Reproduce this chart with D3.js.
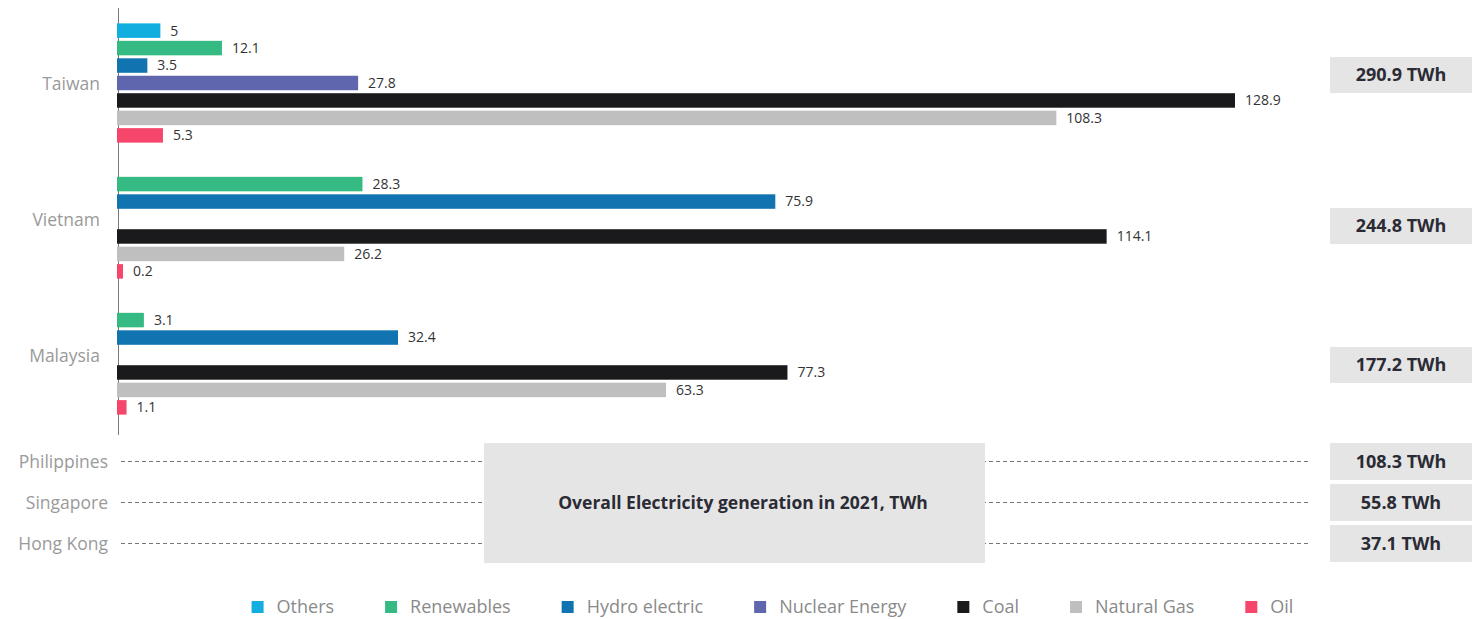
<!DOCTYPE html>
<html>
<head>
<meta charset="utf-8">
<script src="https://cdn.jsdelivr.net/npm/d3@7"></script>
<style>
  html, body { margin: 0; padding: 0; background: #fff; }
  svg { display: block; font-family: "Open Sans", "Noto Sans", sans-serif; }
</style>
</head>
<body>
<svg id="chart" width="1472" height="619"></svg>
<script>
// ---- data ----
const countries = ["Taiwan", "Vietnam", "Malaysia"];
const seriesNames = ["Others", "Renewables", "Hydro electric", "Nuclear Energy", "Coal", "Natural Gas", "Oil"];
const seriesColors = ["#12aee0", "#35ba84", "#1174b0", "#5f66ae", "#1a1a1c", "#bfbfbf", "#f7466b"];
const others     = [5, null, null];
const renewables = [12.1, 28.3, 3.1];
const hydro      = [3.5, 75.9, 32.4];
const nuclear    = [27.8, null, null];
const coal       = [128.9, 114.1, 77.3];
const naturalGas = [108.3, 26.2, 63.3];
const oil        = [5.3, 0.2, 1.1];
const totals     = ["290.9 TWh", "244.8 TWh", "177.2 TWh"];
const otherCountries = ["Philippines", "Singapore", "Hong Kong"];
const otherTotals    = ["108.3 TWh", "55.8 TWh", "37.1 TWh"];
const centerLabel = "Overall Electricity generation in 2021, TWh";

const seriesValues = [others, renewables, hydro, nuclear, coal, naturalGas, oil];

// ---- layout ----
const svg = d3.select("#chart");
const boxNudge = [-8, 7, 10];

const x = d3.scaleLinear().domain([0, 128.9]).range([117, 1235]);
const yGroup = d3.scaleBand().domain(countries).range([15, 423]).padding(0);
const yRow = d3.scaleBand().domain(seriesNames).range([0, yGroup.bandwidth()])
  .paddingInner(0.17).paddingOuter(0.48);
const yLow = d3.scaleBand().domain(otherCountries).range([441, 564])
  .paddingInner(0.1).paddingOuter(0.05);

// axis line
svg.append("line")
  .attr("x1", 118.5).attr("x2", 118.5).attr("y1", 8).attr("y2", 435)
  .attr("stroke", "#7a7a7a").attr("stroke-width", 1);

// bars
const barData = [];
countries.forEach((c, ci) => {
  seriesNames.forEach((s, si) => {
    const v = seriesValues[si][ci];
    if (v != null) barData.push({ country: c, series: s, color: seriesColors[si], value: v, ci });
  });
});

const g = svg.append("g");
g.selectAll("rect.bar").data(barData).enter().append("rect")
  .attr("class", "bar")
  .attr("x", x(0))
  .attr("y", d => yGroup(d.country) + yRow(d.series))
  .attr("width", d => Math.max(x(d.value) - x(0), 6))
  .attr("height", yRow.bandwidth())
  .attr("fill", d => d.color);

g.selectAll("text.val").data(barData).enter().append("text")
  .attr("class", "val")
  .attr("x", d => x(0) + Math.max(x(d.value) - x(0), 6) + 10)
  .attr("y", d => yGroup(d.country) + yRow(d.series) + yRow.bandwidth() / 2)
  .attr("dy", "0.35em")
  .attr("font-size", 14)
  .attr("fill", "#333")
  .text(d => d.value);

// country labels
svg.selectAll("text.clabel").data(countries).enter().append("text")
  .attr("class", "clabel")
  .attr("x", 100)
  .attr("y", d => yGroup(d) + yGroup.bandwidth() / 2 + 1)
  .attr("dy", "0.35em")
  .attr("text-anchor", "end")
  .attr("font-size", 17.5)
  .attr("fill", "#9a9a9a")
  .text(d => d);

// total boxes
const totalW = 142, totalH = 36;
countries.forEach((c, i) => {
  const cy = yGroup(c) + yGroup.bandwidth() / 2 + boxNudge[i];
  svg.append("rect").attr("x", 1330).attr("y", cy - totalH / 2)
    .attr("width", totalW).attr("height", totalH).attr("fill", "#e5e5e5");
  svg.append("text").attr("x", 1330 + totalW / 2).attr("y", cy)
    .attr("dy", "0.35em").attr("text-anchor", "middle")
    .attr("font-size", 18).attr("font-weight", 700).attr("fill", "#2b2b35")
    .text(totals[i]);
});

// lower rows
otherCountries.forEach((c, i) => {
  const cy = yLow(c) + yLow.bandwidth() / 2;
  svg.append("line").attr("x1", 121).attr("x2", 1308).attr("y1", cy).attr("y2", cy)
    .attr("stroke", "#777").attr("stroke-width", 1).attr("stroke-dasharray", "4,3");
  svg.append("text").attr("x", 108).attr("y", cy).attr("dy", "0.35em")
    .attr("text-anchor", "end").attr("font-size", 17.5).attr("fill", "#9a9a9a").text(c);
  svg.append("rect").attr("x", 1330).attr("y", yLow(c))
    .attr("width", totalW).attr("height", yLow.bandwidth()).attr("fill", "#e5e5e5");
  svg.append("text").attr("x", 1330 + totalW / 2).attr("y", cy)
    .attr("dy", "0.35em").attr("text-anchor", "middle")
    .attr("font-size", 18).attr("font-weight", 700).attr("fill", "#2b2b35")
    .text(otherTotals[i]);
});

// center box
svg.append("rect").attr("x", 484).attr("y", 443).attr("width", 501).attr("height", 120).attr("fill", "#e5e5e5");
svg.append("text").attr("x", 743).attr("y", 503).attr("dy", "0.35em")
  .attr("text-anchor", "middle").attr("font-size", 17.5).attr("font-weight", 700)
  .attr("fill", "#2b2b35").text(centerLabel);

// legend
const legend = svg.append("g");
const items = legend.selectAll("g.item").data(seriesNames).enter().append("g").attr("class", "item");
items.append("rect").attr("width", 12).attr("height", 12).attr("y", -6)
  .attr("fill", (d, i) => seriesColors[i]);
items.append("text").attr("x", 25).attr("dy", "0.35em")
  .attr("font-size", 18).attr("fill", "#8a8a8a").text(d => d);
const gap = 51;
let cx = 0;
const offsets = [];
items.each(function () {
  offsets.push(cx);
  const w = this.querySelector("text").getComputedTextLength();
  cx += 25 + w + gap;
});
const totalLen = cx - gap;
const startX = 772.5 - totalLen / 2;
items.attr("transform", (d, i) => `translate(${startX + offsets[i]},607)`);
</script>
</body>
</html>
